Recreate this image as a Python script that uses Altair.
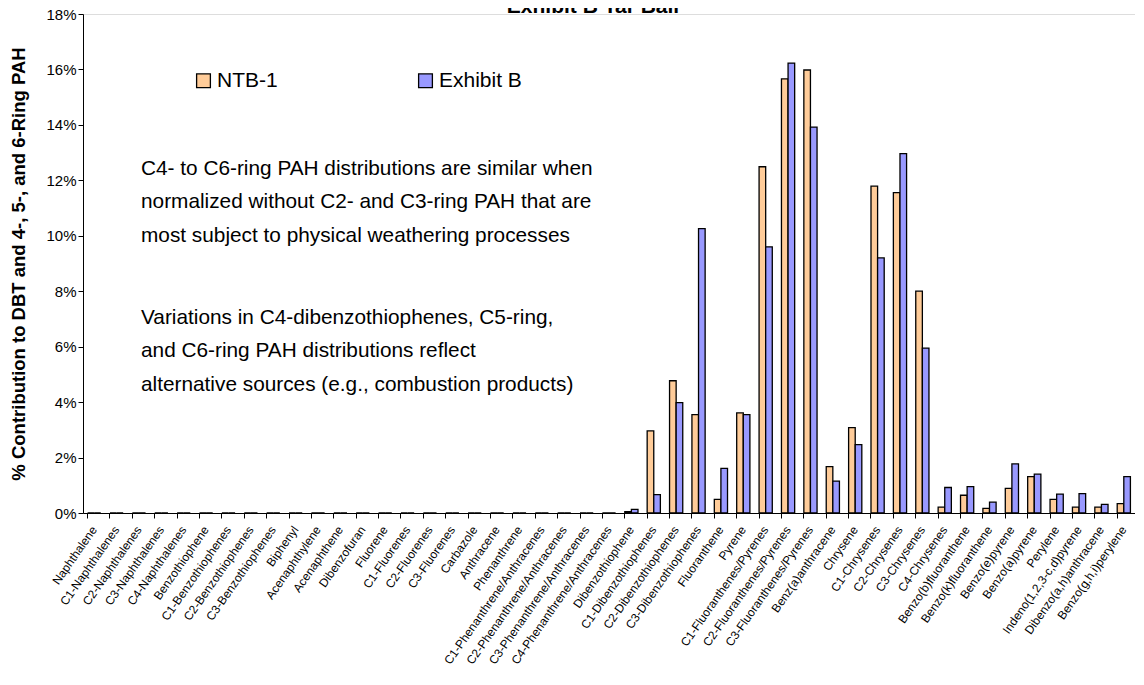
import altair as alt
import pandas as pd

categories = [
    "Naphthalene", "C1-Naphthalenes", "C2-Naphthalenes", "C3-Naphthalenes", "C4-Naphthalenes",
    "Benzothiophene", "C1-Benzothiophenes", "C2-Benzothiophenes", "C3-Benzothiophenes",
    "Biphenyl", "Acenaphthylene", "Acenaphthene", "Dibenzofuran", "Fluorene",
    "C1-Fluorenes", "C2-Fluorenes", "C3-Fluorenes", "Carbazole", "Anthracene", "Phenanthrene",
    "C1-Phenanthrene/Anthracenes", "C2-Phenanthrene/Anthracenes", "C3-Phenanthrene/Anthracenes",
    "C4-Phenanthrene/Anthracenes", "Dibenzothiophene", "C1-Dibenzothiophenes",
    "C2-Dibenzothiophenes", "C3-Dibenzothiophenes", "Fluoranthene", "Pyrene",
    "C1-Fluoranthenes/Pyrenes", "C2-Fluoranthenes/Pyrenes", "C3-Fluoranthenes/Pyrenes",
    "Benz(a)anthracene", "Chrysene", "C1-Chrysenes", "C2-Chrysenes", "C3-Chrysenes",
    "C4-Chrysenes", "Benzo(b)fluoranthene", "Benzo(k)fluoranthene", "Benzo(e)pyrene",
    "Benzo(a)pyrene", "Perylene", "Indeno(1,2,3-c,d)pyrene", "Dibenzo(a,h)anthracene",
    "Benzo(g,h,i)perylene",
]

ntb1 = [0] * 24 + [
    0.05, 2.96, 4.77, 3.55, 0.49, 3.61, 12.49, 15.66, 15.98, 1.67, 3.08, 11.79, 11.56,
    8.00, 0.21, 0.64, 0.17, 0.89, 1.31, 0.49, 0.21, 0.21, 0.34,
]
exhibit_b = [0] * 24 + [
    0.13, 0.66, 3.98, 10.26, 1.61, 3.55, 9.60, 16.23, 13.92, 1.15, 2.47, 9.20, 12.96,
    5.95, 0.92, 0.95, 0.39, 1.77, 1.40, 0.68, 0.70, 0.31, 1.31,
]

series_names = ["NTB-1", "Exhibit B"]
series_colors = ["#FFCC99", "#9999FF"]
y_ticks = [0, 2, 4, 6, 8, 10, 12, 14, 16, 18]

title_text = "Exhibit B Tar Ball"
y_title = "% Contribution to DBT and 4-, 5-, and 6-Ring PAH"
note_1 = [
    "C4- to C6-ring PAH distributions are similar when",
    "normalized without C2- and C3-ring PAH that are",
    "most subject to physical weathering processes",
]
note_2 = [
    "Variations in C4-dibenzothiophenes, C5-ring,",
    "and C6-ring PAH distributions reflect",
    "alternative sources (e.g., combustion products)",
]

FONT = "Liberation Sans"

rows = []
for c, a, b in zip(categories, ntb1, exhibit_b):
    rows.append({"cat": c, "series": "NTB-1", "value": a})
    rows.append({"cat": c, "series": "Exhibit B", "value": b})
df = pd.DataFrame(rows)

bars = alt.Chart(df).mark_bar(stroke="black", strokeWidth=1.3).encode(
    x=alt.X(
        "cat:N",
        sort=categories,
        scale=alt.Scale(paddingInner=0.41, paddingOuter=0.205),
        axis=alt.Axis(
            title=None,
            labelAngle=305,
            labelAlign="right",
            labelBaseline="middle",
            labelFontSize=12,
            labelFont=FONT,
            labelColor="black",
            labelPadding=9,
            bandPosition=0,
            tickSize=5,
            tickColor="black",
            domainColor="black",
            labelOverlap=False,
        ),
    ),
    xOffset=alt.XOffset("series:N", sort=series_names, scale=alt.Scale(domain=series_names)),
    y=alt.Y(
        "value:Q",
        scale=alt.Scale(domain=[0, 18], nice=False),
        axis=alt.Axis(
            values=y_ticks,
            labelExpr="datum.value + '%'",
            title=y_title,
            titleFont=FONT,
            titleFontSize=18.5,
            titleFontWeight="bold",
            titleColor="black",
            titlePadding=17,
            labelFont=FONT,
            labelFontSize=15,
            labelColor="black",
            tickSize=5,
            tickColor="black",
            domainColor="black",
            grid=False,
        ),
    ),
    color=alt.Color(
        "series:N",
        sort=series_names,
        scale=alt.Scale(domain=series_names, range=series_colors),
        legend=alt.Legend(
            title=None,
            orient="none",
            legendX=110,
            legendY=56,
            direction="horizontal",
            symbolType="square",
            symbolSize=190,
            symbolStrokeColor="black",
            symbolStrokeWidth=1.3,
            labelFont=FONT,
            labelFontSize=21,
            labelColor="black",
            labelOffset=3,
            columnPadding=137,
            padding=0,
        ),
    ),
)

title = alt.Chart(pd.DataFrame({"t": [title_text]})).mark_text(
    font=FONT, fontSize=21, fontWeight="bold", color="black", align="center", baseline="alphabetic"
).encode(text="t:N", x=alt.value(510), y=alt.value(-1))

t1 = alt.Chart(pd.DataFrame({"t": [0]})).mark_text(
    text=note_1, font=FONT, fontSize=20.8, color="black", align="left",
    baseline="alphabetic", lineHeight=33.3,
).encode(x=alt.value(58), y=alt.value(161))

t2 = alt.Chart(pd.DataFrame({"t": [0]})).mark_text(
    text=note_2, font=FONT, fontSize=20.8, color="black", align="left",
    baseline="alphabetic", lineHeight=33.3,
).encode(x=alt.value(58), y=alt.value(310))

chart = alt.layer(bars, title, t1, t2).properties(
    width=1052,
    height=499,
    autosize=alt.AutoSizeParams(type="none"),
    padding={"left": 75, "top": 6, "right": 0, "bottom": 163},
).configure_view(stroke=None).configure(font=FONT)

chart.save("out.html", embed_options={"renderer": "svg", "actions": False})
